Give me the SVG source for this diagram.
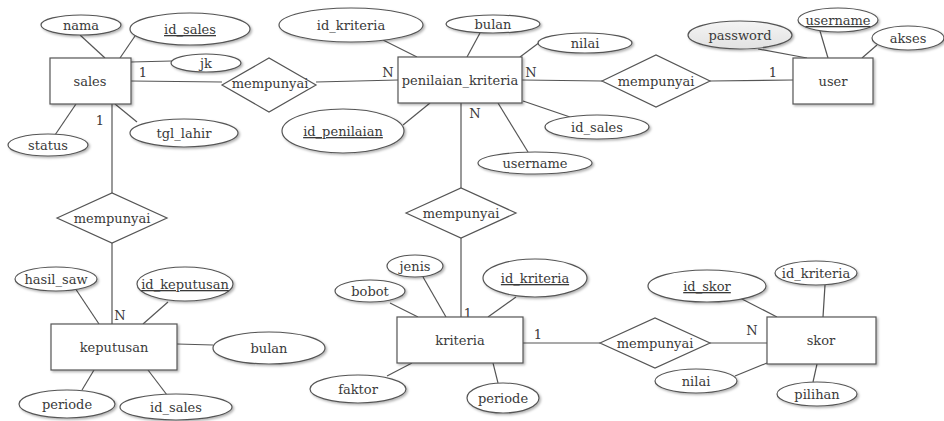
<svg xmlns="http://www.w3.org/2000/svg" width="944" height="421" viewBox="0 0 944 421">
<defs>
<filter id="sh" x="-10%" y="-10%" width="125%" height="130%">
<feDropShadow dx="1.5" dy="1.5" stdDeviation="1" flood-color="#000" flood-opacity="0.3"/>
</filter>
<linearGradient id="pw" x1="0" y1="0" x2="0" y2="1"><stop offset="0" stop-color="#f4f4f4"/><stop offset="1" stop-color="#e2e2e2"/></linearGradient>
</defs>
<style>
.e{fill:#fff;stroke:#555;stroke-width:1.2;filter:url(#sh)}
.r{fill:#fff;stroke:#555;stroke-width:1.2;filter:url(#sh)}
.d{fill:#fff;stroke:#555;stroke-width:1.2}
.c line{stroke:#555;stroke-width:1.2;fill:none}
text{font-family:"DejaVu Serif",serif;font-size:13px;fill:#3a3a3a;text-anchor:middle}
.u{text-decoration:underline}
.k{font-size:13px}
</style>
<rect width="944" height="421" fill="#fff"/>
<g class="c" id="connectors">
<line x1="80" y1="35" x2="105" y2="58"/>
<line x1="135" y1="36" x2="120" y2="58"/>
<line x1="131" y1="62" x2="172" y2="61"/>
<line x1="55" y1="135" x2="76" y2="104"/>
<line x1="115" y1="104" x2="137" y2="122"/>
<line x1="131" y1="81" x2="222" y2="82"/>
<line x1="316" y1="82" x2="398" y2="80"/>
<line x1="112" y1="104" x2="112" y2="193"/>
<line x1="112" y1="243" x2="112" y2="324"/>
<line x1="383" y1="40" x2="417" y2="57"/>
<line x1="480" y1="33" x2="467" y2="57"/>
<line x1="540" y1="42" x2="520" y2="57"/>
<line x1="403" y1="125" x2="430" y2="103"/>
<line x1="523" y1="101" x2="570" y2="117"/>
<line x1="498" y1="103" x2="528" y2="152"/>
<line x1="522" y1="80" x2="602" y2="81"/>
<line x1="710" y1="81" x2="793" y2="80"/>
<line x1="461" y1="103" x2="461" y2="188"/>
<line x1="461" y1="238" x2="461" y2="317"/>
<line x1="758" y1="49" x2="807" y2="58"/>
<line x1="820" y1="31" x2="828" y2="58"/>
<line x1="877" y1="45" x2="862" y2="58"/>
<line x1="75" y1="288" x2="99" y2="324"/>
<line x1="168" y1="302" x2="143" y2="324"/>
<line x1="177" y1="344" x2="213" y2="345"/>
<line x1="82" y1="390" x2="94" y2="370"/>
<line x1="148" y1="370" x2="167" y2="395"/>
<line x1="423" y1="277" x2="446" y2="317"/>
<line x1="390" y1="303" x2="418" y2="317"/>
<line x1="516" y1="297" x2="488" y2="317"/>
<line x1="387" y1="376" x2="412" y2="363"/>
<line x1="493" y1="363" x2="498" y2="383"/>
<line x1="523" y1="343" x2="600" y2="343"/>
<line x1="710" y1="343" x2="767" y2="343"/>
<line x1="740" y1="298" x2="777" y2="317"/>
<line x1="825" y1="285" x2="823" y2="317"/>
<line x1="735" y1="376" x2="767" y2="363"/>
<line x1="817" y1="364" x2="813" y2="382"/>
<text x="143" y="77" class="k">1</text>
<text x="100" y="125" class="k">1</text>
<text x="388" y="77" class="k">N</text>
<text x="531" y="77" class="k">N</text>
<text x="475" y="118" class="k">N</text>
<text x="773" y="77" class="k">1</text>
<text x="120" y="320" class="k">N</text>
<text x="468" y="318" class="k">1</text>
<text x="538" y="339" class="k">1</text>
<text x="752" y="335" class="k">N</text>
</g>
<g id="sales"><rect class="r" x="50" y="58" width="81" height="46"/><text x="90" y="86">sales</text></g>
<g id="sales_nama"><ellipse class="e" cx="81" cy="25" rx="40" ry="10"/><text x="81" y="30">nama</text></g>
<g id="sales_id"><ellipse class="e" cx="190" cy="29" rx="60" ry="16"/><text x="190" y="34" class="u">id_sales</text></g>
<g id="sales_jk"><ellipse class="e" cx="206" cy="63" rx="35" ry="9"/><text x="206" y="68">jk</text></g>
<g id="sales_status"><ellipse class="e" cx="48" cy="145" rx="40" ry="11"/><text x="48" y="150">status</text></g>
<g id="sales_tgl"><ellipse class="e" cx="184" cy="133" rx="54" ry="14"/><text x="184" y="138">tgl_lahir</text></g>
<g id="rel1"><polygon class="d" points="222,85 269,58 316,85 269,112"/><text x="270" y="88">mempunyai</text></g>
<g id="penilaian_kriteria"><rect class="r" x="398" y="57" width="124" height="46"/><text x="460" y="85">penilaian_kriteria</text></g>
<g id="pk_idk"><ellipse class="e" cx="351" cy="25" rx="72" ry="17"/><text x="351" y="30">id_kriteria</text></g>
<g id="pk_bulan"><ellipse class="e" cx="493" cy="24" rx="47" ry="9"/><text x="493" y="29">bulan</text></g>
<g id="pk_nilai"><ellipse class="e" cx="585" cy="43" rx="47" ry="10"/><text x="585" y="48">nilai</text></g>
<g id="pk_idp"><ellipse class="e" cx="343" cy="131" rx="61" ry="22"/><text x="343" y="136" class="u">id_penilaian</text></g>
<g id="pk_ids"><ellipse class="e" cx="597" cy="127" rx="52" ry="12"/><text x="597" y="132">id_sales</text></g>
<g id="pk_user"><ellipse class="e" cx="535" cy="163" rx="57" ry="11"/><text x="535" y="168">username</text></g>
<g id="rel2"><polygon class="d" points="602,81 656,55 710,81 656,107"/><text x="656" y="86">mempunyai</text></g>
<g id="user"><rect class="r" x="793" y="58" width="80" height="46"/><text x="833" y="86">user</text></g>
<g id="user_pw"><ellipse class="e" cx="740" cy="35" rx="52" ry="14" style="fill:url(#pw)"/><text x="740" y="40">password</text></g>
<g id="user_un"><ellipse class="e" cx="838" cy="20" rx="40" ry="12"/><text x="838" y="25" class="u">username</text></g>
<g id="user_akses"><ellipse class="e" cx="908" cy="38" rx="36" ry="12"/><text x="908" y="43">akses</text></g>
<g id="rel3"><polygon class="d" points="57,218 112,193 167,218 112,243"/><text x="112" y="223">mempunyai</text></g>
<g id="keputusan"><rect class="r" x="51" y="324" width="126" height="46"/><text x="114" y="352">keputusan</text></g>
<g id="kp_hasil"><ellipse class="e" cx="56" cy="279" rx="41" ry="12"/><text x="56" y="284">hasil_saw</text></g>
<g id="kp_id"><ellipse class="e" cx="185" cy="284" rx="48" ry="17"/><text x="185" y="289" class="u">id_keputusan</text></g>
<g id="kp_bulan"><ellipse class="e" cx="269" cy="348" rx="56" ry="16"/><text x="269" y="353">bulan</text></g>
<g id="kp_periode"><ellipse class="e" cx="67" cy="404" rx="48" ry="14"/><text x="67" y="409">periode</text></g>
<g id="kp_ids"><ellipse class="e" cx="176" cy="407" rx="56" ry="13"/><text x="176" y="412">id_sales</text></g>
<g id="rel4"><polygon class="d" points="406,213 461,188 516,213 461,238"/><text x="461" y="218">mempunyai</text></g>
<g id="kriteria"><rect class="r" x="397" y="317" width="126" height="46"/><text x="460" y="345">kriteria</text></g>
<g id="kr_jenis"><ellipse class="e" cx="415" cy="266" rx="28" ry="11"/><text x="415" y="271">jenis</text></g>
<g id="kr_bobot"><ellipse class="e" cx="370" cy="291" rx="35" ry="11"/><text x="370" y="296">bobot</text></g>
<g id="kr_id"><ellipse class="e" cx="535" cy="278" rx="52" ry="19"/><text x="535" y="283" class="u">id_kriteria</text></g>
<g id="kr_faktor"><ellipse class="e" cx="358" cy="389" rx="48" ry="14"/><text x="358" y="394">faktor</text></g>
<g id="kr_periode"><ellipse class="e" cx="503" cy="398" rx="36" ry="15"/><text x="503" y="403">periode</text></g>
<g id="rel5"><polygon class="d" points="600,343 655,318 710,343 655,368"/><text x="655" y="348">mempunyai</text></g>
<g id="skor"><rect class="r" x="767" y="317" width="109" height="47"/><text x="821" y="345">skor</text></g>
<g id="sk_id"><ellipse class="e" cx="707" cy="286" rx="59" ry="16"/><text x="707" y="291" class="u">id_skor</text></g>
<g id="sk_idk"><ellipse class="e" cx="816" cy="273" rx="41" ry="12"/><text x="816" y="278">id_kriteria</text></g>
<g id="sk_nilai"><ellipse class="e" cx="696" cy="381" rx="41" ry="12"/><text x="696" y="386">nilai</text></g>
<g id="sk_pilihan"><ellipse class="e" cx="817" cy="394" rx="40" ry="12"/><text x="817" y="399">pilihan</text></g>
</svg>
